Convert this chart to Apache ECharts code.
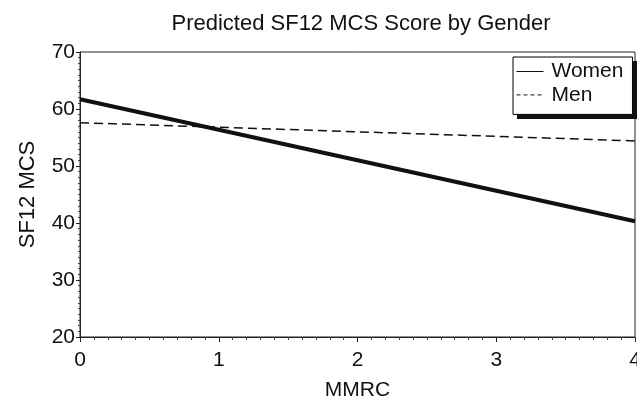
<!DOCTYPE html>
<html>
<head>
<meta charset="utf-8">
<script src="https://cdn.jsdelivr.net/npm/echarts@6/dist/echarts.min.js"></script>
<style>
  html, body { margin: 0; padding: 0; background: #fff; }
  #chart { width: 637px; height: 403px; }
</style>
</head>
<body>
<div id="chart"></div>
<script>
// values
const mmrc = [0, 4];
const women = [61.7, 40.3];
const men = [57.6, 54.4];
const yTicks = [20, 30, 40, 50, 60, 70];

const font = 'Liberation Sans, Arial, sans-serif';
const chart = echarts.init(document.getElementById('chart'));

chart.setOption({
    animation: false,
    title: {
        text: 'Predicted SF12 MCS Score by Gender',
        left: 356,
        textAlign: 'center',
        top: 8,
        textStyle: { fontFamily: font, fontSize: 22, fontWeight: 'normal', color: '#111' }
    },
    // drop shadow behind the legend box
    graphic: [{
        type: 'rect',
        z: 3,
        shape: { x: 517, y: 61, width: 120, height: 58 },
        style: { fill: '#111' },
        silent: true
    }],
    legend: {
        orient: 'vertical',
        left: 513,
        top: 57,
        z: 10,
        padding: [4, 9, 9, 3],
        itemGap: 2.4,
        itemWidth: 27,
        itemHeight: 22,
        backgroundColor: '#fff',
        borderColor: '#000',
        borderWidth: 1,
        borderRadius: 0,
        itemStyle: { color: 'rgba(0,0,0,0)', borderWidth: 0, opacity: 0 },
        lineStyle: { width: 1 },
        textStyle: { fontFamily: font, fontSize: 21, color: '#111', padding: [0, 0, 0, 3] },
        data: [
            { name: 'Women' },
            { name: 'Men', lineStyle: { type: [4, 3] } }
        ]
    },
    grid: {
        left: 80, right: 2, top: 52, bottom: 66,
        outerBoundsMode: 'none',
        show: true, borderColor: '#222', borderWidth: 1
    },
    xAxis: {
        type: 'value',
        min: 0, max: 4, interval: 1,
        name: 'MMRC',
        nameLocation: 'middle',
        nameGap: 43,
        nameTextStyle: { fontFamily: font, fontSize: 21, color: '#111' },
        axisLine: { lineStyle: { color: '#222' } },
        axisTick: { length: 5, lineStyle: { color: '#222' } },
        minorTick: { show: true, splitNumber: 10, length: 3, lineStyle: { color: '#444' } },
        splitLine: { show: false },
        axisLabel: { fontFamily: font, fontSize: 21, color: '#111', margin: 13 }
    },
    yAxis: {
        type: 'value',
        min: yTicks[0], max: yTicks[yTicks.length - 1], interval: 10,
        name: 'SF12 MCS',
        nameLocation: 'middle',
        nameGap: 41,
        nameTextStyle: { fontFamily: font, fontSize: 22, color: '#111' },
        axisLine: { show: true, lineStyle: { color: '#222' } },
        axisTick: { show: true, length: 4, lineStyle: { color: '#222' } },
        minorTick: { show: true, splitNumber: 10, length: 2, lineStyle: { color: '#444' } },
        splitLine: { show: false },
        axisLabel: { fontFamily: font, fontSize: 21, color: '#111', margin: 5 }
    },
    series: [
        {
            name: 'Women',
            type: 'line',
            symbol: 'none',
            color: '#111',
            lineStyle: { width: 4, color: '#111' },
            data: mmrc.map((x, i) => [x, women[i]])
        },
        {
            name: 'Men',
            type: 'line',
            symbol: 'none',
            color: '#111',
            lineStyle: { width: 1.5, color: '#111', type: [9, 5] },
            data: mmrc.map((x, i) => [x, men[i]])
        }
    ]
});
</script>
</body>
</html>
